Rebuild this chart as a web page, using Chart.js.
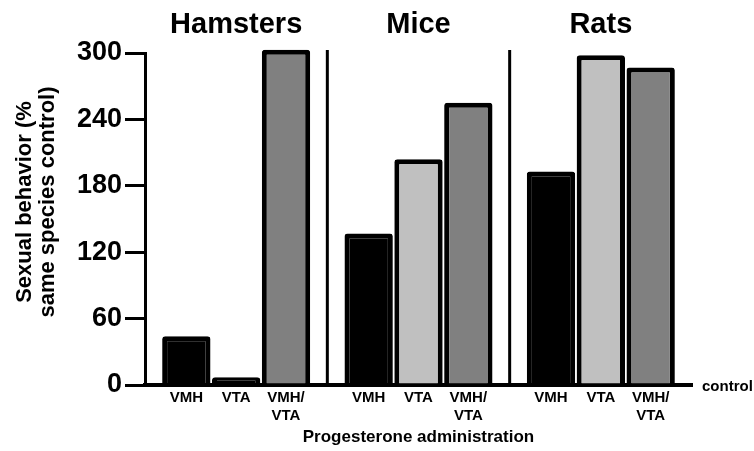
<!DOCTYPE html>
<html>
<head>
<meta charset="utf-8">
<script src="https://cdn.jsdelivr.net/npm/chart.js@4.4.1/dist/chart.umd.min.js"></script>
<style>
  html, body { margin: 0; padding: 0; background: #fff; }
  #wrap { width: 754px; height: 451px; position: relative; }
</style>
</head>
<body>
<div id="wrap"><canvas id="chart"></canvas></div>
<script>
// Data
const species = ['Hamsters', 'Mice', 'Rats'];
const siteNames = ['VMH', 'VTA', 'VMH/VTA'];
const siteLabels = [['VMH'], ['VTA'], ['VMH/', 'VTA']];
const vmhValues = [44, 137, 193];
const vtaValues = [7, 204, 298];
const bothValues = [303, 255, 287];
const yTitle = ['Sexual behavior (%', 'same species control)'];
const yMax = 300;
const yStep = 60;

const FONT = '"Liberation Sans", Arial, Helvetica, sans-serif';

// Dividers, y title, site labels under each bar and the "control" label
const extras = {
    id: 'extras',
    afterDraw(chart) {
        const { ctx, chartArea, scales } = chart;
        const x = scales.x;
        const y = scales.y;
        const base = y.getPixelForValue(0);
        ctx.save();
        ctx.strokeStyle = '#000';
        ctx.lineWidth = 3;
        for (let i = 0; i < species.length - 1; i++) {
            const px = (x.getPixelForTick(i) + x.getPixelForTick(i + 1)) / 2;
            ctx.beginPath();
            ctx.moveTo(px, chartArea.top - 3);
            ctx.lineTo(px, base);
            ctx.stroke();
        }
        ctx.fillStyle = '#000';
        ctx.textAlign = 'center';
        ctx.textBaseline = 'middle';

        // rotated y title, sitting a bit above the axis middle as in the figure
        ctx.save();
        ctx.font = 'bold 22px ' + FONT;
        ctx.translate(0, 202);
        ctx.rotate(-Math.PI / 2);
        yTitle.forEach((line, k) => ctx.fillText(line, 0, 25 + k * 23));
        ctx.restore();

        ctx.font = 'bold 15px ' + FONT;
        chart.data.datasets.forEach((ds, d) => {
            chart.getDatasetMeta(d).data.forEach(bar => {
                siteLabels[d].forEach((line, k) => {
                    ctx.fillText(line, bar.x, base + 13 + k * 18);
                });
            });
        });
        ctx.textAlign = 'left';
        ctx.fillText('control', chartArea.right + 10, base + 2);
        ctx.restore();
    }
};

const barStyle = {
    borderColor: '#000',
    borderWidth: 5,
    borderRadius: 3,
    borderSkipped: 'start',
    categoryPercentage: 0.82,
    barPercentage: 0.97,
    clip: false
};

// very short bars are all border in the figure
const fillFor = (colour) => (c) => (c.parsed && c.parsed.y < 10 ? '#000' : colour);

new Chart(document.getElementById('chart'), {
    type: 'bar',
    data: {
        labels: species,
        datasets: [
            Object.assign({ label: siteNames[0], data: vmhValues, backgroundColor: '#000' }, barStyle),
            Object.assign({ label: siteNames[1], data: vtaValues, backgroundColor: fillFor('#c0c0c0') }, barStyle),
            Object.assign({ label: siteNames[2], data: bothValues, backgroundColor: fillFor('#808080') }, barStyle)
        ]
    },
    options: {
        responsive: true,
        maintainAspectRatio: false,
        animation: false,
        layout: { padding: { top: 0, right: 62, bottom: 0, left: 0 } },
        plugins: {
            legend: { display: false },
            tooltip: { enabled: false }
        },
        scales: {
            x: {
                position: 'bottom',
                z: 1,
                grid: { display: false },
                border: { display: true, color: '#000', width: 4 },
                ticks: { display: false },
                title: {
                    display: true,
                    text: 'Progesterone administration',
                    color: '#000',
                    font: { family: FONT, size: 17, weight: 'bold' },
                    padding: { top: 0, bottom: 3 }
                },
                afterFit: (scale) => { scale.height = 66; }
            },
            x2: {
                type: 'category',
                labels: species,
                position: 'top',
                offset: true,
                grid: { display: false },
                border: { display: false },
                ticks: {
                    color: '#000',
                    padding: 3,
                    font: { family: FONT, size: 29, weight: 'bold' }
                },
                afterFit: (scale) => { scale.height = 53; }
            },
            y: {
                min: 0,
                max: yMax,
                ticks: {
                    stepSize: yStep,
                    color: '#000',
                    padding: 3,
                    font: { family: FONT, size: 27, weight: 'bold' }
                },
                grid: {
                    drawOnChartArea: false,
                    drawTicks: true,
                    tickLength: 20,
                    lineWidth: 3,
                    color: '#000'
                },
                border: { display: true, color: '#000', width: 3 },
                afterFit: (scale) => { scale.width = 145; }
            }
        }
    },
    plugins: [extras]
});
</script>
</body>
</html>
